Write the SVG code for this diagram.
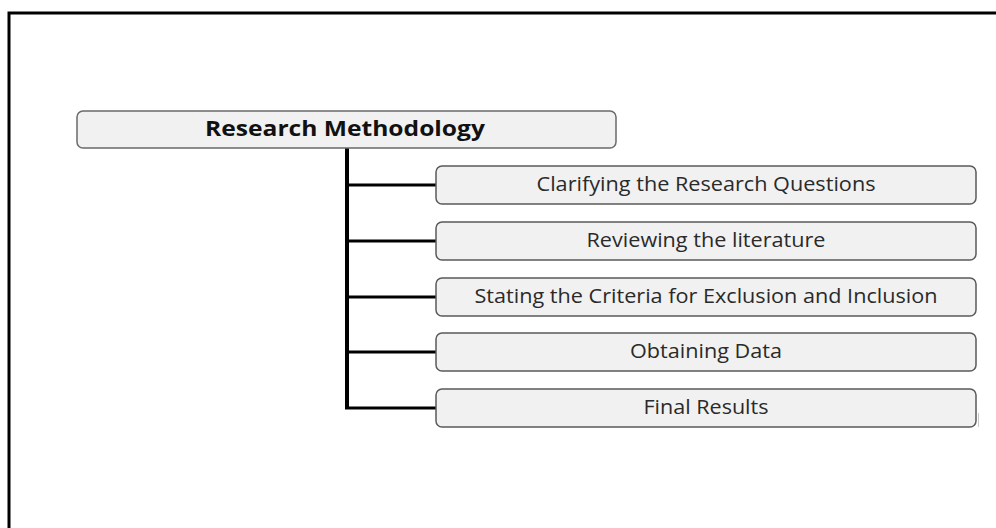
<svg xmlns="http://www.w3.org/2000/svg" width="996" height="528" viewBox="0 0 996 528">
<style>
.box{fill:#f1f1f1;stroke:#5a5a5a;stroke-width:1.5}
.main{fill:#f1f1f1;stroke:#6a6a6a;stroke-width:1.5}
.lbl{font-family:"Open Sans","Liberation Sans",sans-serif;font-size:20px;fill:#2a2a2a;text-anchor:middle}
.ttl{font-family:"Open Sans","Liberation Sans",sans-serif;font-size:20.5px;font-weight:bold;fill:#111;text-anchor:middle}
.br{stroke:#000;stroke-width:3;fill:none}
</style>
<rect width="996" height="528" fill="#fff"/>
<rect x="9" y="13" width="1100" height="700" fill="none" stroke="#000" stroke-width="3"/>
<g id="connectors">
<line x1="347" y1="148" x2="347" y2="408" stroke="#000" stroke-width="4"/>
<line class="br" x1="347" y1="185" x2="436" y2="185"/>
<line class="br" x1="347" y1="241" x2="436" y2="241"/>
<line class="br" x1="347" y1="297" x2="436" y2="297"/>
<line class="br" x1="347" y1="352" x2="436" y2="352"/>
<path class="br" d="M345,408 H436"/>
</g>
<g id="node-main">
<rect class="main" x="77" y="111" width="539" height="37" rx="6"/>
<text class="ttl" x="345" y="135.5" textLength="280" lengthAdjust="spacingAndGlyphs">Research Methodology</text>
</g>
<g id="node-1">
<rect class="box" x="436" y="166" width="540" height="38" rx="6"/>
<text class="lbl" x="706" y="190.5" textLength="339" lengthAdjust="spacingAndGlyphs">Clarifying the Research Questions</text>
</g>
<g id="node-2">
<rect class="box" x="436" y="222" width="540" height="38" rx="6"/>
<text class="lbl" x="706" y="246.5" textLength="239" lengthAdjust="spacingAndGlyphs">Reviewing the literature</text>
</g>
<g id="node-3">
<rect class="box" x="436" y="278" width="540" height="38" rx="6"/>
<text class="lbl" x="706" y="302.5" textLength="463" lengthAdjust="spacingAndGlyphs">Stating the Criteria for Exclusion and Inclusion</text>
</g>
<g id="node-4">
<rect class="box" x="436" y="333" width="540" height="38" rx="6"/>
<text class="lbl" x="706" y="357.5" textLength="152" lengthAdjust="spacingAndGlyphs">Obtaining Data</text>
</g>
<g id="node-5">
<rect class="box" x="436" y="389" width="540" height="38" rx="6"/>
<text class="lbl" x="706" y="413.5" textLength="125" lengthAdjust="spacingAndGlyphs">Final Results</text>
</g>
<line x1="978.5" y1="413" x2="978.5" y2="427" stroke="#c8c8c8" stroke-width="1"/>
</svg>
